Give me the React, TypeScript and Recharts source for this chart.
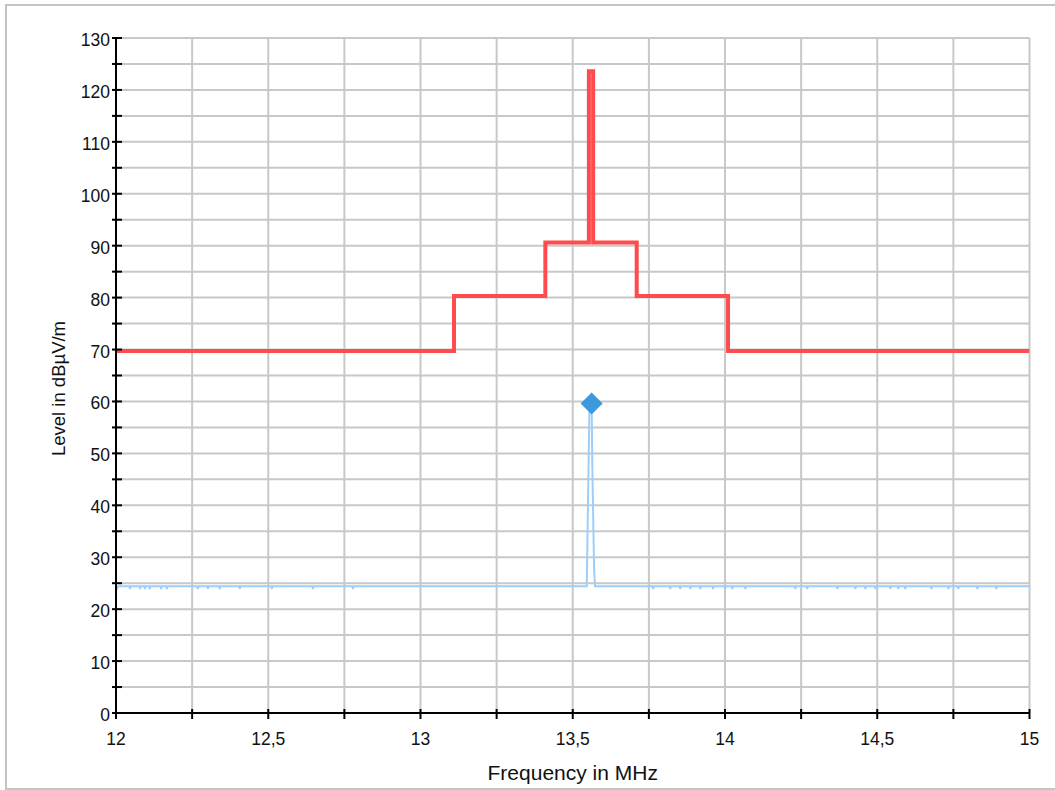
import { CartesianGrid, ComposedChart, Line, Scatter, XAxis, YAxis } from "recharts";

// limit line (red), stepped
const limitFreq = [12, 13.11, 13.11, 13.41, 13.41, 13.553, 13.553, 13.567, 13.567, 13.71, 13.71, 14.01, 14.01, 15];
const limitLevel = [69.7, 69.7, 80.3, 80.3, 90.6, 90.6, 123.6, 123.6, 90.6, 90.6, 80.3, 80.3, 69.7, 69.7];

// measured trace (blue): [MHz, dBµV/m]
const measured: Array<[number, number]> = [
  [12.0, 24.5], [12.004, 24.0], [12.008, 24.4],
  [12.044, 24.4], [12.046, 23.9], [12.048, 24.4],
  [12.077, 24.4], [12.079, 23.9], [12.081, 24.4],
  [12.093, 24.4], [12.095, 23.9], [12.097, 24.4],
  [12.109, 24.4], [12.111, 23.9], [12.113, 24.4],
  [12.146, 24.4], [12.148, 23.9], [12.15, 24.4],
  [12.165, 24.4], [12.167, 23.9], [12.169, 24.4],
  [12.267, 24.4], [12.269, 23.9], [12.271, 24.4],
  [12.3, 24.4], [12.302, 23.9], [12.304, 24.4],
  [12.339, 24.4], [12.341, 23.9], [12.343, 24.4],
  [12.405, 24.4], [12.407, 23.9], [12.409, 24.4],
  [12.51, 24.4], [12.512, 23.9], [12.514, 24.4],
  [12.645, 24.4], [12.647, 23.9], [12.649, 24.4],
  [12.776, 24.4], [12.778, 23.9], [12.78, 24.4],
  [13.546, 24.4], [13.555, 59.6], [13.562, 59.6], [13.5643, 47.4], [13.57, 28.0], [13.573, 24.4],
  [13.762, 24.4], [13.764, 23.9], [13.766, 24.4],
  [13.818, 24.4], [13.82, 23.9], [13.822, 24.4],
  [13.851, 24.4], [13.853, 23.9], [13.855, 24.4],
  [13.884, 24.4], [13.886, 23.9], [13.888, 24.4],
  [13.917, 24.4], [13.919, 23.9], [13.921, 24.4],
  [13.959, 24.4], [13.961, 23.9], [13.963, 24.4],
  [13.999, 24.4], [14.001, 23.9], [14.003, 24.4],
  [14.022, 24.4], [14.024, 23.9], [14.026, 24.4],
  [14.065, 24.4], [14.067, 23.9], [14.069, 24.4],
  [14.229, 24.4], [14.231, 23.9], [14.233, 24.4],
  [14.268, 24.4], [14.27, 23.9], [14.272, 24.4],
  [14.367, 24.4], [14.369, 23.9], [14.371, 24.4],
  [14.426, 24.4], [14.428, 23.9], [14.43, 24.4],
  [14.459, 24.4], [14.461, 23.9], [14.463, 24.4],
  [14.492, 24.4], [14.494, 23.9], [14.496, 24.4],
  [14.541, 24.4], [14.543, 23.9], [14.545, 24.4],
  [14.567, 24.4], [14.569, 23.9], [14.571, 24.4],
  [14.59, 24.4], [14.592, 23.9], [14.594, 24.4],
  [14.676, 24.4], [14.678, 23.9], [14.68, 24.4],
  [14.732, 24.4], [14.734, 23.9], [14.736, 24.4],
  [14.764, 24.4], [14.766, 23.9], [14.768, 24.4],
  [14.827, 24.4], [14.829, 23.9], [14.831, 24.4],
  [14.889, 24.4], [14.891, 23.9], [14.893, 24.4],
  [15.0, 24.4],
];

// peak marker
const peak = [{ f: 13.562, level: 59.6 }];

const xTicks = [12, 12.25, 12.5, 12.75, 13, 13.25, 13.5, 13.75, 14, 14.25, 14.5, 14.75, 15];
const yTicks = [0, 5, 10, 15, 20, 25, 30, 35, 40, 45, 50, 55, 60, 65, 70, 75, 80, 85, 90, 95, 100, 105, 110, 115, 120, 125, 130];

const FONT = '"Liberation Sans", Arial, sans-serif';

const limitData = limitFreq.map((f, i) => ({ f, level: limitLevel[i] }));
const measuredData = measured.map(([f, level]) => ({ f, level }));

const XTick = ({ x, y, payload }: any) => {
  const v = payload.value as number;
  const major = Math.abs(v * 2 - Math.round(v * 2)) < 1e-6;
  return (
    <g>
      <line x1={x} x2={x} y1={y - 4} y2={y + 6} stroke="#000" strokeWidth={2} />
      {major && (
        <text x={x} y={y + 32} textAnchor="middle" fontSize={17.5} fontFamily={FONT} fill="#111">
          {String(v).replace(".", ",")}
        </text>
      )}
    </g>
  );
};

const YTick = ({ x, y, payload }: any) => {
  const v = payload.value as number;
  const major = v % 10 === 0;
  return (
    <g>
      <line x1={x - 4} x2={x + 6} y1={y} y2={y} stroke="#000" strokeWidth={2} />
      {major && (
        <text x={x - 6} y={y + 8} textAnchor="end" fontSize={17.5} fontFamily={FONT} fill="#111">
          {v}
        </text>
      )}
    </g>
  );
};

const YTitle = ({ viewBox }: any) => {
  const cx = viewBox.x + viewBox.width / 2;
  const cy = viewBox.y + viewBox.height / 2 + 13;
  return (
    <text
      x={cx}
      y={cy}
      transform={`rotate(-90 ${cx} ${cy})`}
      textAnchor="middle"
      dominantBaseline="central"
      fontSize={18.5}
      fontFamily={FONT}
      fill="#111"
    >
      Level in dBµV/m
    </text>
  );
};

const Diamond = ({ cx, cy }: any) => (
  <polygon
    points={`${cx},${cy - 11} ${cx + 11},${cy} ${cx},${cy + 11} ${cx - 11},${cy}`}
    fill="#3d98dd"
  />
);

export default function App() {
  return (
    <div style={{ position: "fixed", left: 0, top: 0, width: 1055, height: 790, overflow: "hidden", background: "#fff" }}>
      <div
        style={{
          position: "absolute",
          left: 5,
          top: 4,
          width: 1100,
          height: 782,
          borderTop: "2px solid #c4c4c4",
          borderLeft: "2px solid #c4c4c4",
          borderBottom: "2px solid #c4c4c4",
        }}
      />
      <div style={{ position: "absolute", left: 0, top: 0 }}>
        <ComposedChart width={1055} height={790} margin={{ top: 38, right: 25.5, bottom: 0, left: 0 }}>
          <CartesianGrid stroke="#c8c8c8" strokeWidth={2} />
          <XAxis
            type="number"
            dataKey="f"
            domain={[12, 15]}
            ticks={xTicks}
            interval={0}
            allowDataOverflow
            height={77}
            tickSize={0}
            tickMargin={0}
            tick={<XTick />}
            axisLine={{ stroke: "#000", strokeWidth: 2 }}
            label={{ value: "Frequency in MHz", position: "insideBottom", offset: 10, fontSize: 21, fontFamily: FONT, fill: "#111" }}
          />
          <YAxis
            type="number"
            dataKey="level"
            domain={[0, 130]}
            ticks={yTicks}
            interval={0}
            allowDataOverflow
            width={116}
            tickSize={0}
            tickMargin={0}
            tick={<YTick />}
            axisLine={{ stroke: "#000", strokeWidth: 2 }}
            label={<YTitle />}
          />
          <Line
            data={measuredData}
            dataKey="level"
            type="linear"
            stroke="#9dcdfb"
            strokeWidth={2}
            dot={false}
            activeDot={false}
            isAnimationActive={false}
          />
          <Line
            data={limitData}
            dataKey="level"
            type="linear"
            stroke="#ff4b4b"
            strokeWidth={4}
            dot={false}
            activeDot={false}
            isAnimationActive={false}
          />
          <Scatter data={peak} dataKey="level" shape={<Diamond />} isAnimationActive={false} />
        </ComposedChart>
      </div>
    </div>
  );
}
